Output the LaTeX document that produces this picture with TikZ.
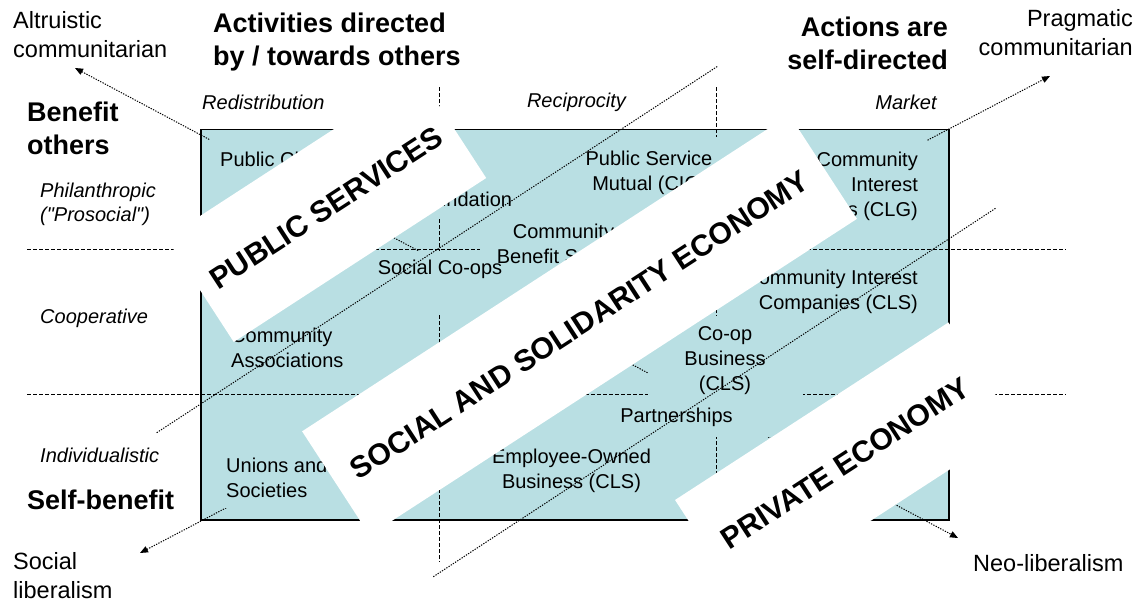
\documentclass[tikz,border=0pt]{standalone}
\usepackage{fontspec}
\setmainfont{Liberation Sans}
\usetikzlibrary{arrows.meta}
\definecolor{cellteal}{HTML}{B9DFE3}
\begin{document}
\begin{tikzpicture}[x=1pt, y=-1pt,
	side/.style = {font=\fontsize{23.5}{29}\selectfont, inner sep=0pt},
	head/.style = {font=\bfseries\fontsize{27}{33}\selectfont, inner sep=0pt},
	axis/.style = {font=\itshape\fontsize{20}{24}\selectfont, inner sep=0pt},
	cell/.style = {font=\fontsize{20}{25}\selectfont, align=center, inner sep=0pt},
	cover/.style = {fill=cellteal},
	banner/.style = {fill=white, font=\bfseries\fontsize{30}{36}\selectfont, minimum height=124pt, inner sep=0pt, rotate=33},
	grid/.style = {dash pattern=on 4pt off 2pt, line width=0.9pt},
	dots/.style = {dash pattern=on 1.3pt off 1.3pt, line width=1pt},
	tips/.style = {{Triangle[length=8pt,width=6.5pt]}-{Triangle[length=8pt,width=6.5pt]}}]
	\useasboundingbox (0,0) rectangle (1140,600);
	\filldraw[fill=cellteal, line width=1.5pt] (201,129.5) rectangle (949,520);
	\draw[grid] (27,249.5) -- (1066,249.5);
	\draw[grid] (27,394) -- (1066,394);
	\draw[grid] (439.3,87) -- (439.3,562);
	\draw[grid] (716,87) -- (716,562);
	\coordinate (altr) at (75,68);
	\coordinate (neo) at (958,538);
	\coordinate (socl) at (140,553);
	\coordinate (prag) at (1050,76);
	\draw[dots, tips] (altr) -- (neo);
	\draw[dots, tips] (socl) -- (prag);
	\fill[cover] (210,139) rectangle (300,176);
	\fill[cover] (415,186) rectangle (520,218);
	\fill[cover] (480,221) rectangle (650,270);
	\fill[cover] (370,251) rectangle (512,313);
	\fill[cover] (580,137) rectangle (725,196);
	\fill[cover] (790,136) rectangle (927,224);
	\fill[cover] (648,316) rectangle (803,400);
	\fill[cover] (586,398) rectangle (790,437);
	\fill[cover] (218,448) rectangle (335,508);
	\node[cell, anchor=west] (pubc) at (220,161) {Public Charity};
	\node[cell] (fndn) at (462,199) {Foundation};
	\node[cell] (cbs) at (563.5,245.5) {Community\\Benefit Society};
	\node[cell] (scop) at (440,269) {Social Co-ops};
	\node[cell] (psm) at (649,172.5) {Public Service\\Mutual (CIC)};
	\node[cell, align=right, anchor=east] (cicg) at (918,186) {Community\\Interest\\Companies (CLG)};
	\node[cell, align=right, anchor=east] (cics) at (918,291.5) {Community Interest\\Companies (CLS)};
	\node[cell, align=left, anchor=west] (cass) at (231,348) {Community\\Associations};
	\node[cell] (coop) at (725,361) {Co-op\\Business\\(CLS)};
	\node[cell] (part) at (676.5,417) {Partnerships};
	\node[cell] (eob) at (571.5,470.5) {Employee-Owned\\Business (CLS)};
	\node[cell, align=left, anchor=west] (uns) at (226,477.5) {Unions and\\Societies};
	\coordinate (l1s) at (156.7,432.7);
	\coordinate (l1e) at (718,66);
	\coordinate (l2s) at (433.3,576.7);
	\coordinate (l2e) at (996,208);
	\draw[dots] (l1s) -- (l1e);
	\draw[dots] (l2s) -- (l2e);
	\node[banner, minimum width=301pt] (ps) at (326.2,208) {PUBLIC SERVICES};
	\node[banner, minimum width=581pt] (sse) at (579.5,325.1) {SOCIAL AND SOLIDARITY ECONOMY};
	\node[banner, minimum width=326pt] (pe) at (845.5,463.2) {PRIVATE ECONOMY};
	\node[side, align=left, anchor=west] (altx) at (13,34.5) {Altruistic\\communitarian};
	\node[side, align=right, anchor=east] (pragx) at (1133,32.5) {Pragmatic\\communitarian};
	\node[side, align=left, anchor=west] (soclx) at (13,575.5) {Social\\liberalism};
	\node[side, anchor=west] (neox) at (973,563) {Neo-liberalism};
	\node[head, align=left, anchor=west] (act1) at (213,42) {Activities directed\\by / towards others};
	\node[head, align=right, anchor=east] (act2) at (948,43.5) {Actions are\\self-directed};
	\node[head, align=left, anchor=west] (ben1) at (27,128) {Benefit\\others};
	\node[head, anchor=west] (ben2) at (27,500) {Self-benefit};
	\node[axis, anchor=west] (red) at (202,102) {Redistribution};
	\node[axis] (rec) at (576.5,102) {Reciprocity};
	\node[axis] (mkt) at (906,102) {Market};
	\node[axis, align=left, anchor=west] (phil) at (40,204) {Philanthropic\\(\textquotedbl Prosocial\textquotedbl)};
	\node[axis, anchor=west] (coopx) at (40,318) {Cooperative};
	\node[axis, anchor=west] (indv) at (40,455) {Individualistic};
\end{tikzpicture}
\end{document}
